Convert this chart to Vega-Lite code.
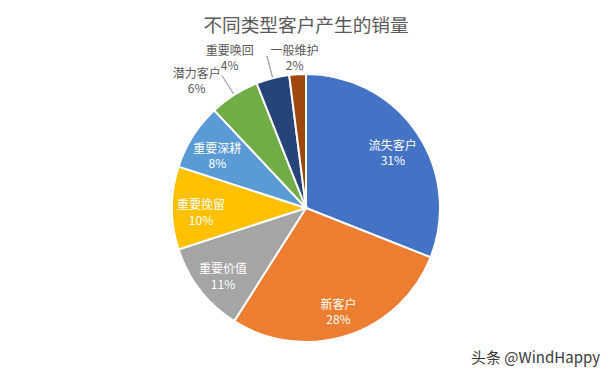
{
  "$schema": "https://vega.github.io/schema/vega-lite/v6.json",
  "width": 612,
  "height": 379,
  "autosize": {"type": "fit", "contains": "padding"},
  "padding": 0,
  "background": "#FFFFFF",
  "title": {
    "text": "不同类型客户产生的销量",
    "font": "Noto Sans CJK SC",
    "fontSize": 18.67,
    "fontWeight": "normal",
    "color": "#595959",
    "anchor": "middle",
    "frame": "group",
    "offset": -35.5
  },
  "config": {
    "view": {"stroke": "#D9D9D9", "strokeWidth": 1.5},
    "font": "Noto Sans CJK SC"
  },
  "data": {
    "values": [
      {"name": "流失客户", "share": 0.31},
      {"name": "新客户", "share": 0.28},
      {"name": "重要价值", "share": 0.11},
      {"name": "重要挽留", "share": 0.10},
      {"name": "重要深耕", "share": 0.08},
      {"name": "潜力客户", "share": 0.06},
      {"name": "重要唤回", "share": 0.04},
      {"name": "一般维护", "share": 0.02}
    ]
  },
  "layer": [
    {
      "mark": {"type": "arc", "radius": 134, "stroke": "#FFFFFF", "strokeWidth": 2, "y": {"expr": "height / 2 + 18.5"}},
      "encoding": {
        "theta": {"field": "share", "type": "quantitative", "stack": true},
        "order": {"field": "share", "type": "quantitative", "sort": "descending"},
        "color": {
          "field": "name",
          "type": "nominal",
          "scale": {
            "domain": ["流失客户", "新客户", "重要价值", "重要挽留", "重要深耕", "潜力客户", "重要唤回", "一般维护"],
            "range": ["#4472C4", "#ED7D31", "#A5A5A5", "#FFC000", "#5B9BD5", "#70AD47", "#264478", "#9E480E"]
          },
          "legend": null
        }
      }
    },
    {
      "transform": [
        {"stack": "share", "groupby": [], "sort": [{"field": "share", "order": "descending"}], "as": ["s0", "s1"]},
        {"calculate": "(datum.s0 + datum.s1) / 2", "as": "mid"},
        {"filter": "datum.name === '潜力客户' || datum.name === '重要唤回'"}
      ],
      "mark": {"type": "arc", "radius": 157, "radius2": 135, "filled": false, "color": "#A6A6A6", "strokeWidth": 1, "y": {"expr": "height / 2 + 18.5"}},
      "encoding": {
        "theta": {"field": "mid", "type": "quantitative", "stack": null},
        "theta2": {"field": "mid"}
      }
    },
    {
      "transform": [{"calculate": "[datum.name, format(datum.share, '.0%')]", "as": "label"}],
      "mark": {"type": "text", "radius": 105, "fontSize": 12, "lineHeight": 15.5, "fill": "#FFFFFF", "dy": -3, "y": {"expr": "height / 2 + 18.5"}},
      "encoding": {
        "theta": {"field": "share", "type": "quantitative", "stack": true},
        "order": {"field": "share", "type": "quantitative", "sort": "descending"},
        "text": {"field": "label", "type": "nominal", "condition": {"test": "datum.share < 0.075", "value": ""}}
      }
    },
    {
      "transform": [{"calculate": "[datum.name, format(datum.share, '.0%')]", "as": "label"}],
      "mark": {"type": "text", "radius": 150, "fontSize": 12, "lineHeight": 15.5, "fill": "#595959", "dx": -2, "dy": -7.5, "y": {"expr": "height / 2 + 18.5"}},
      "encoding": {
        "theta": {"field": "share", "type": "quantitative", "stack": true},
        "order": {"field": "share", "type": "quantitative", "sort": "descending"},
        "text": {"field": "label", "type": "nominal", "condition": {"test": "datum.name !== '一般维护'", "value": ""}}
      }
    },
    {
      "transform": [{"calculate": "[datum.name, format(datum.share, '.0%')]", "as": "label"}],
      "mark": {"type": "text", "radius": 150, "fontSize": 12, "lineHeight": 15.5, "fill": "#595959", "dx": -39, "dy": -12, "y": {"expr": "height / 2 + 18.5"}},
      "encoding": {
        "theta": {"field": "share", "type": "quantitative", "stack": true},
        "order": {"field": "share", "type": "quantitative", "sort": "descending"},
        "text": {"field": "label", "type": "nominal", "condition": {"test": "datum.name !== '重要唤回'", "value": ""}}
      }
    },
    {
      "transform": [{"calculate": "[datum.name, format(datum.share, '.0%')]", "as": "label"}],
      "mark": {"type": "text", "radius": 150, "fontSize": 12, "lineHeight": 15.5, "fill": "#595959", "dx": -29, "dy": -7.5, "y": {"expr": "height / 2 + 18.5"}},
      "encoding": {
        "theta": {"field": "share", "type": "quantitative", "stack": true},
        "order": {"field": "share", "type": "quantitative", "sort": "descending"},
        "text": {"field": "label", "type": "nominal", "condition": {"test": "datum.name !== '潜力客户'", "value": ""}}
      }
    },
    {
      "data": {"values": [{"source": "头条 @WindHappy"}]},
      "mark": {"type": "text", "align": "right", "baseline": "middle", "fontSize": 15, "fill": "#3A3A3A", "x": {"expr": "width - 12"}, "y": {"expr": "height - 21"}},
      "encoding": {"text": {"field": "source", "type": "nominal"}}
    }
  ]
}
